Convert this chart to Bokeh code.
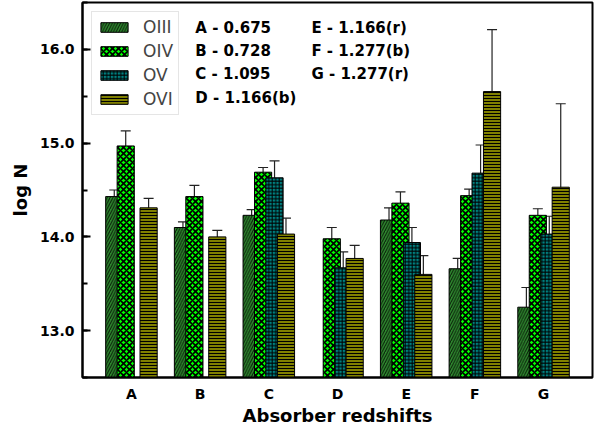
import numpy as np
from bokeh.plotting import figure
from bokeh.models import (ColumnDataSource, Whisker, TeeHead, Legend, LegendItem,
                          FixedTicker, SingleIntervalTicker, PrintfTickFormatter, Label, Range1d)
from bokeh.embed import file_html
from bokeh.resources import INLINE

# Absorbers and their redshifts
categories = ["A", "B", "C", "D", "E", "F", "G"]
redshift_notes = ["A - 0.675", "B - 0.728", "C - 1.095", "D - 1.166(b)",
                  "E - 1.166(r)", "F - 1.277(b)", "G - 1.277(r)"]

# Column densities (log N) and 1-sigma errors; NaN = not measured
oiii = [14.43, 14.10, 14.23, np.nan, 14.18, 13.66, 13.25]
oiii_err = [0.07, 0.06, 0.06, np.nan, 0.13, 0.11, 0.21]
oiv = [14.97, 14.43, 14.69, 13.98, 14.36, 14.44, 14.23]
oiv_err = [0.16, 0.12, 0.05, 0.12, 0.12, 0.07, 0.07]
ov = [np.nan, np.nan, 14.63, 13.67, 13.94, 14.68, 14.03]
ov_err = [np.nan, np.nan, 0.18, 0.17, 0.16, 0.30, 0.19]
ovi = [14.31, 14.00, 14.03, 13.77, 13.60, 15.55, 14.53]
ovi_err = [0.10, 0.07, 0.17, 0.14, 0.20, 0.66, 0.89]

ions = ["OIII", "OIV", "OV", "OVI"]
values = [oiii, oiv, ov, ovi]
errors = [oiii_err, oiv_err, ov_err, ovi_err]
fills = ["#2f8a2f", "#00ff00", "#008080", "#808000"]
hatches = ["right_diagonal_line", "diagonal_cross", "cross", "horizontal_line"]
hatch_scales = [5.5, 6, 3.5, 3]
hatch_weights = [1.0, 1.6, 1.0, 1.0]
hatch_alphas = [0.8, 1.0, 1.0, 1.0]

FONT = "DejaVu Sans"
bar_w = 0.25
step = 0.1667

p = figure(frame_width=510, frame_height=375, output_backend="svg", toolbar_location=None,
           x_range=Range1d(-0.7125, 6.7125), y_range=Range1d(12.5, 16.5),
           min_border_left=82, min_border_right=9, min_border_top=2, min_border_bottom=51)
p.xgrid.visible = False
p.ygrid.visible = False
p.outline_line_color = "black"
p.outline_line_width = 2
p.background_fill_color = "white"
p.border_fill_color = "white"

xpos = np.arange(len(categories))
items = []
for i, (name, vals, errs) in enumerate(zip(ions, values, errors)):
    vals = np.asarray(vals, dtype=float)
    errs = np.asarray(errs, dtype=float)
    mask = ~np.isnan(vals)
    x = xpos[mask] + (i - 1.5) * step
    src = ColumnDataSource(dict(x=x, top=vals[mask],
                                upper=vals[mask] + errs[mask],
                                lower=vals[mask] - errs[mask]))
    r = p.vbar(x="x", top="top", bottom=0, width=bar_w, source=src,
               fill_color=fills[i], line_color="black", line_width=1,
               hatch_pattern=hatches[i], hatch_color="black", hatch_alpha=hatch_alphas[i],
               hatch_scale=hatch_scales[i], hatch_weight=hatch_weights[i])
    w = Whisker(base="x", upper="upper", lower="lower", source=src,
                line_color="#222222", line_width=1.2,
                upper_head=TeeHead(size=10, line_color="#222222", line_width=1.2),
                lower_head=TeeHead(size=10, line_color="#222222", line_width=1.2))
    p.add_layout(w)
    items.append(LegendItem(label=name, renderers=[r]))

legend = Legend(items=items, location="top_left", margin=9, padding=5, spacing=4,
                glyph_width=34, glyph_height=12, label_standoff=12, label_height=20,
                label_text_font=FONT, label_text_font_size="17px",
                border_line_color="#cccccc", border_line_width=1,
                background_fill_color="white", background_fill_alpha=0.9)
p.add_layout(legend)

# Redshift key, two columns
col_x = [0.93, 0.93, 0.93, 0.93, 2.62, 2.62, 2.62]
row_y = [16.23, 15.985, 15.74, 15.48, 16.23, 15.985, 15.74]
for txt, lx, ly in zip(redshift_notes, col_x, row_y):
    p.add_layout(Label(x=lx, y=ly, text=txt, text_font=FONT, text_font_size="15px",
                       text_font_style="bold", text_baseline="middle", text_color="black"))

# Axes
p.xaxis.ticker = FixedTicker(ticks=list(xpos))
p.xaxis.major_label_overrides = {int(k): c for k, c in zip(xpos, categories)}
p.xaxis.major_tick_in = 0
p.xaxis.major_tick_out = 0
p.xaxis.minor_tick_in = 0
p.xaxis.minor_tick_out = 0
p.xaxis.axis_label = "Absorber redshifts"
p.xaxis.major_label_standoff = 8
p.xaxis.axis_label_standoff = 0

p.yaxis.ticker = SingleIntervalTicker(interval=1, num_minor_ticks=2)
p.yaxis.formatter = PrintfTickFormatter(format="%.1f")
p.yaxis.major_tick_in = 8
p.yaxis.major_tick_out = 0
p.yaxis.minor_tick_in = 5
p.yaxis.minor_tick_out = 0
p.yaxis.major_tick_line_width = 2
p.yaxis.minor_tick_line_width = 2
p.yaxis.axis_label = "log N"
p.yaxis.major_label_standoff = 8
p.yaxis.axis_label_standoff = 6

for ax in (p.xaxis, p.yaxis):
    ax.axis_line_width = 2
    ax.axis_line_color = "black"
    ax.major_label_text_font = FONT
    ax.major_label_text_font_size = "14px"
    ax.major_label_text_font_style = "bold"
    ax.major_label_text_color = "black"
    ax.axis_label_text_font = FONT
    ax.axis_label_text_font_size = "18px"
    ax.axis_label_text_font_style = "bold"
    ax.axis_label_text_color = "black"

open("out.html", "w").write(file_html(p, INLINE))
